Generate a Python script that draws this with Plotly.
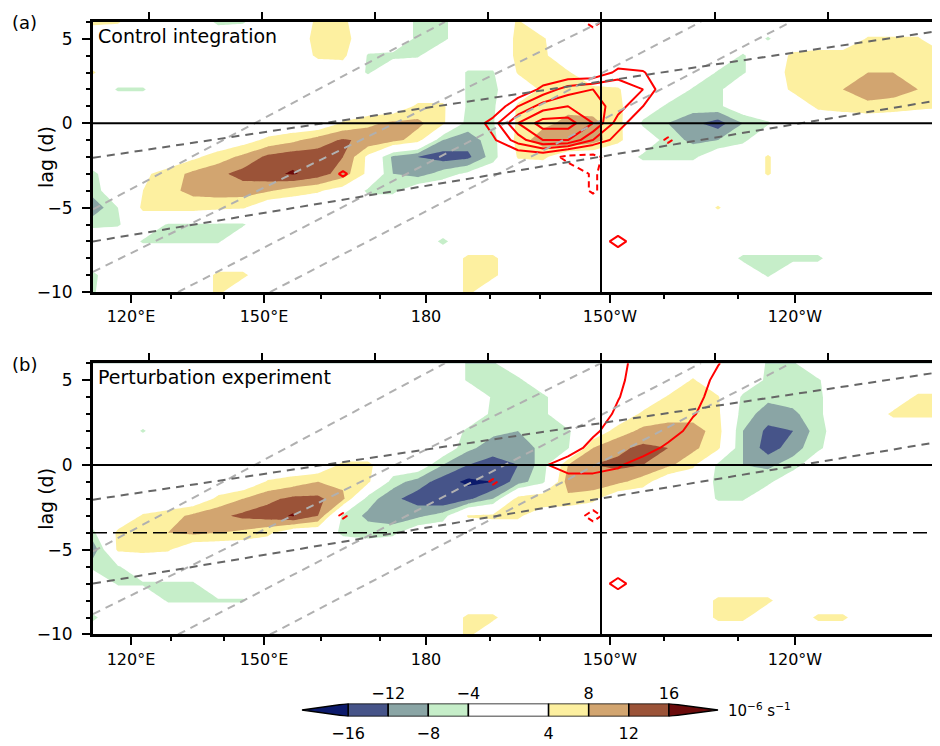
import plotly.graph_objects as go

W, H = 940, 746
FONT = "DejaVu Sans"

# ---------------- data ----------------
# x position along the (irregular) longitude axis, in axis units (frame spans 0..850)
xpos = list(range(0, 851, 25))
lag_rows = [6, 5, 4, 3, 2, 1, 0, -1, -2, -3, -4, -5, -6, -7, -8, -9, -10]

lon_major_pos = [38, 171, 333, 517, 702]
lon_major_lab = ["120°E", "150°E", "180", "150°W", "120°W"]
lon_minor_pos = [78, 131, 228, 287, 397, 447, 571, 645]
top_tick_pos = [56, 169, 282, 395, 508, 622, 735, 848]
lag_tick_pos = [-10, -5, 0, 5]
lag_tick_lab = ["\u221210", "\u22125", "0", "5"]
lag_minor_pos = list(range(-10, 7))

# contour levels and the colour of each band (below first level ... above last level)
levels = [-16, -12, -8, -4, 4, 8, 12, 16]
band_colors = ["#0c1a6c", "#465489", "#8aa5a5", "#c6eec9", "#ffffff",
               "#fdf0a0", "#d2a570", "#9b5338", "#6b0b0b"]

# vorticity anomaly, control integration (rows = lag_rows, cols = xpos)
za = [
 [5,4.5,0,0,0,-5,-4.5,0,0,5,5,0,0,-5,-5,0,0,4.5,0,0,0,0,0,0,-4.2,0,0,0,0,0,0,0,0,0,0],
 [0,0,0,0,0,0,0,0,0,6,6,0,0,-5,-5,0,0,5,4.5,0,0,0,0,0,0,0,0,-4.5,0,0,0,4.5,4.5,4.5,0],
 [0,0,0,0,0,0,0,0,0,5,5.5,-4.5,-5,-4.5,0,0,0,5,5,0,0,0,0,0,0,0,-4.5,0,5,6,6,6,6,6,5],
 [4.5,0,0,0,0,0,0,0,0,0,0,-4.5,0,0,0,-4.5,-4.5,4.5,5,4.5,0,0,0,0,0,-4.5,-4.5,0,6,7,7,8,8,7,6],
 [0,-4.5,-4.5,0,0,0,0,0,0,0,0,0,0,0,0,-4.5,-5,0,5,5.5,5,4.5,0,0,-4.5,-5,0,0,5,7,8,10,10,8,6],
 [0,0,0,0,0,0,0,0,0,0,0,0,0,5,5,-5,-5,5,6,7,6.5,5,0,-5,-6,-5,0,0,0,5,6,7,6,5,4.5],
 [0,0,0,0,0,0,0,0,0,0,4.5,7,9,9,5,-6,-4.5,5,7,9,9,6,-5,-8,-11,-14,-8,-4.5,0,0,0,0,0,0,0],
 [0,0,0,0,0,0,2,5,7,10,12.5,11,9.5,6,-8,-10,-6,6,10,12,10,5,0,-6,-9,-8,-5,0,0,0,0,0,0,0,0],
 [0,0,0,0,3,6,9,13,14.5,14,12,3,-9,-12,-14,-13,-6,4.5,5,0,0,0,-5,-5,-5,0,0,4.5,0,0,0,0,0,0,0],
 [-5,0,3,6,9,11,13.5,15,16.5,14,10,3,-8,-10,-6,-3,0,0,0,0,0,0,0,0,0,0,0,4.5,0,0,0,0,0,0,0],
 [-6,0,4,7,9,10,10,8.5,6,4.5,2,-5,-5,0,0,0,0,0,0,0,0,0,0,0,0,0,0,0,0,0,0,0,0,0,0],
 [-11,-4,5,6,6,5,4.5,0,0,0,0,0,0,0,0,0,0,0,0,0,0,0,0,0,0,4.5,0,0,0,0,0,0,0,0,0],
 [-5,-4.5,0,-4.5,-4.5,-4.5,-4.5,0,0,0,0,0,0,0,0,0,0,0,0,0,0,0,0,0,0,0,0,0,0,0,0,0,0,0,0],
 [0,0,-4.5,-4.5,-4.5,-4.5,0,0,0,0,0,0,0,0,-5,0,0,0,0,0,0,0,0,0,0,0,0,0,0,0,0,0,0,0,0],
 [0,0,0,0,0,0,0,0,0,0,0,0,0,0,0,5,5,0,0,0,0,0,0,0,0,0,-5,-5,-5,-5,0,0,0,0,0],
 [-5,0,0,0,0,5,5,0,0,0,0,0,0,0,0,5,5,0,0,0,0,0,0,0,0,0,0,-4.5,0,0,0,0,0,0,0],
 [-4.5,0,0,0,0,5,0,0,0,0,0,0,0,0,0,5,0,0,0,0,0,0,0,0,0,0,0,0,0,0,0,0,0,0,0],
]

# vorticity anomaly, perturbation experiment
zb = [
 [0,0,0,0,0,0,0,0,0,0,0,0,0,0,0,-4.5,-4.5,0,0,0,0,0,0,0,0,0,0,-4.5,-4.5,0,0,0,0,0,0],
 [0,0,0,0,0,0,0,0,0,0,0,0,0,0,0,-4.5,-5,-5,0,0,0,0,0,0,4.5,0,0,-5,-5,-4.5,0,0,0,0,0],
 [0,0,0,0,0,0,0,0,0,0,0,0,0,0,0,0,-4.5,-5,-5,0,0,0,0,4.5,5,4.5,-5,-7,-6,-5,0,0,0,5,5],
 [0,0,0,0,0,0,0,0,0,0,0,0,0,0,0,0,-5,-6,-5,0,0,0,5,6,6,5,-6,-10,-9,-5,0,0,5,5,5],
 [0,0,-4.5,0,0,0,0,0,0,0,0,0,0,0,0,-5,-7,-8,-6,-4.5,0,6,9,10,10,6,-8,-13,-12,-6,0,0,0,0,0],
 [0,0,0,0,0,0,0,0,0,0,0,0,0,0,0,-7,-10,-10,-7,-4.5,8,11,13,12,9,5,-8,-14,-10,-5,0,0,0,0,0],
 [0,0,0,0,0,0,0,0,0,0,5,5,0,0,-8,-12,-14,-12,-6,8,12,13,12,9,5,-5,-8,-9,-6,0,0,0,0,0,0],
 [0,0,0,0,0,0,0,4.5,6,8,7,5,-6,-10,-14,-17,-16,-10,-5,10,11,9,6,0,0,-5,-6,-5,0,0,0,0,0,0,0],
 [0,0,0,0,0,5,8,11,13,13,9,-6,-11,-14,-16,-13,-8,6,8,7,5,0,0,0,0,-4.5,-4.5,0,0,0,0,0,0,0,0],
 [0,0,4.5,6,9,11,13,14,16.5,12,-5,-9,-11,-9,-6,4.5,5,5,0,0,0,0,0,0,0,0,0,0,0,0,0,0,0,0,0],
 [-5,5,6,8,9,8,7,5,0,0,-5,-6,-5,0,0,0,0,0,0,0,0,0,0,0,0,0,0,0,0,0,0,0,0,0,0],
 [-11,5,5,4.5,0,0,0,0,0,0,0,0,0,0,0,0,0,0,0,0,0,0,0,0,0,0,0,0,0,0,0,0,0,0,0],
 [-5,-4.5,0,0,0,0,0,0,0,0,0,0,0,0,0,0,0,0,0,0,0,0,0,0,0,0,0,0,0,0,0,0,0,0,0],
 [0,-4.5,-4.5,-4.5,-4.5,0,0,0,0,0,0,0,0,0,0,0,0,0,0,0,0,0,0,0,0,0,0,0,0,0,0,0,0,0,0],
 [0,0,0,-4.5,-4.5,-4.5,-4.5,0,0,0,0,0,0,0,0,0,0,0,0,0,0,0,0,0,0,5,5,5,0,0,0,0,0,0,0],
 [-5,0,0,0,0,0,0,0,0,0,0,0,0,0,0,5,5,0,0,0,0,0,0,0,0,5,5,0,0,5,5,0,0,0,0],
 [0,0,0,0,0,0,0,0,0,0,0,0,0,0,0,5,0,0,0,0,0,0,0,0,0,0,0,0,0,0,0,0,0,0,0],
]

# second field (red contours), control integration
ra = [
 [0,0,0,0,0,0,0,0,0,0,0,0,0,0,0,0,0,0,0,0,-1.5,0,0,0,0,0,0,0,0,0,0,0,0,0,0],
 [0,0,0,0,0,0,0,0,0,0,0,0,0,0,0,0,0,0,0,0,0,0,0,0,0,0,0,0,0,0,0,0,0,0,0],
 [0,0,0,0,0,0,0,0,0,0,0,0,0,0,0,0,0,0,0,0,0,0,0,0,0,0,0,0,0,0,0,0,0,0,0],
 [0,0,0,0,0,0,0,0,0,0,0,0,0,0,0,0,0,0,0,0,0,1.3,1.1,0,0,0,0,0,0,0,0,0,0,0,0],
 [0,0,0,0,0,0,0,0,0,0,0,0,0,0,0,0,0,0,1.3,2.5,3,3,2,0,0,0,0,0,0,0,0,0,0,0,0],
 [0,0,0,0,0,0,0,0,0,0,0,0,0,0,0,0,0,2,3.5,4,3.5,2.5,1,0,0,0,0,0,0,0,0,0,0,0,0],
 [0,0,0,0,0,0,0,0,0,0,0,0,0,0,0,0,1.5,4,5.5,5.5,4,1.5,0,0,0,0,0,0,0,0,0,0,0,0,0],
 [0,0,0,0,0,0,0,0,0,0,0,0,0,0,0,0,0.8,2.5,4,4,2,0.5,0,-1.2,0,0,0,0,0,0,0,0,0,0,0],
 [0,0,0,0,0,0,0,0,0,0,0,0,0,0,0,0,0,0,0,-1.5,-1.5,0,0,0,0,0,0,0,0,0,0,0,0,0,0],
 [0,0,0,0,0,0,0,0,0,0,1.2,0,0,0,0,0,0,0,0,0,-1.2,0,0,0,0,0,0,0,0,0,0,0,0,0,0],
 [0,0,0,0,0,0,0,0,0,0,0,0,0,0,0,0,0,0,0,0,-1.2,0,0,0,0,0,0,0,0,0,0,0,0,0,0],
 [0,0,0,0,0,0,0,0,0,0,0,0,0,0,0,0,0,0,0,0,0,0,0,0,0,0,0,0,0,0,0,0,0,0,0],
 [0,0,0,0,0,0,0,0,0,0,0,0,0,0,0,0,0,0,0,0,0,0,0,0,0,0,0,0,0,0,0,0,0,0,0],
 [0,0,0,0,0,0,0,0,0,0,0,0,0,0,0,0,0,0,0,0,0,1.5,0,0,0,0,0,0,0,0,0,0,0,0,0],
 [0,0,0,0,0,0,0,0,0,0,0,0,0,0,0,0,0,0,0,0,0,0,0,0,0,0,0,0,0,0,0,0,0,0,0],
 [0,0,0,0,0,0,0,0,0,0,0,0,0,0,0,0,0,0,0,0,0,0,0,0,0,0,0,0,0,0,0,0,0,0,0],
 [0,0,0,0,0,0,0,0,0,0,0,0,0,0,0,0,0,0,0,0,0,0,0,0,0,0,0,0,0,0,0,0,0,0,0],
]

# second field (red contours), perturbation experiment
rb = [
 [0,0,0,0,0,0,0,0,0,0,0,0,0,0,0,0,0,0,0,0,0,0.33,2,2,2,1.09,0,0,0,0,0,0,0,0,0],
 [0,0,0,0,0,0,0,0,0,0,0,0,0,0,0,0,0,0,0,0,0,0.61,2,2,2,0.53,0,0,0,0,0,0,0,0,0],
 [0,0,0,0,0,0,0,0,0,0,0,0,0,0,0,0,0,0,0,0,0,0.91,2,2,1.79,0,0,0,0,0,0,0,0,0,0],
 [0,0,0,0,0,0,0,0,0,0,0,0,0,0,0,0,0,0,0,0,0,1.32,2,2,1.14,0,0,0,0,0,0,0,0,0,0],
 [0,0,0,0,0,0,0,0,0,0,0,0,0,0,0,0,0,0,0,0,0.61,2,2,2,0.33,0,0,0,0,0,0,0,0,0,0],
 [0,0,0,0,0,0,0,0,0,0,0,0,0,0,0,0,0,0,0,0,1.67,2,2,0.53,0,0,0,0,0,0,0,0,0,0,0],
 [0,0,0,0,0,0,0,0,0,0,0,0,0,0,0,0,0,0,0.75,2,2,1.25,0,0,0,0,0,0,0,0,0,0,0,0,0],
 [0,0,0,0,0,0,0,0,0,0,0,0,0,0,0,0,-1.2,0,0,0,0,0,0,0,0,0,0,0,0,0,0,0,0,0,0],
 [0,0,0,0,0,0,0,0,0,0,0,0,0,0,0,0,0,0,0,0,0,0,0,0,0,0,0,0,0,0,0,0,0,0,0],
 [0,0,0,0,0,0,0,0,0,0,-1.2,0,0,0,0,0,0,0,0,0,-1.5,0,0,0,0,0,0,0,0,0,0,0,0,0,0],
 [0,0,0,0,0,0,0,0,0,0,0,0,0,0,0,0,0,0,0,0,0,0,0,0,0,0,0,0,0,0,0,0,0,0,0],
 [0,0,0,0,0,0,0,0,0,0,0,0,0,0,0,0,0,0,0,0,0,0,0,0,0,0,0,0,0,0,0,0,0,0,0],
 [0,0,0,0,0,0,0,0,0,0,0,0,0,0,0,0,0,0,0,0,0,0,0,0,0,0,0,0,0,0,0,0,0,0,0],
 [0,0,0,0,0,0,0,0,0,0,0,0,0,0,0,0,0,0,0,0,0,1.5,0,0,0,0,0,0,0,0,0,0,0,0,0],
 [0,0,0,0,0,0,0,0,0,0,0,0,0,0,0,0,0,0,0,0,0,0,0,0,0,0,0,0,0,0,0,0,0,0,0],
 [0,0,0,0,0,0,0,0,0,0,0,0,0,0,0,0,0,0,0,0,0,0,0,0,0,0,0,0,0,0,0,0,0,0,0],
 [0,0,0,0,0,0,0,0,0,0,0,0,0,0,0,0,0,0,0,0,0,0,0,0,0,0,0,0,0,0,0,0,0,0,0],
]

# reference phase lines and group lines (x0, lag0, x1, lag1)
phase_lines = [(0, -5.1, 352, 6.0), (0, -8.8, 508, 6.0), (85, -10, 608, 6), (177, -10, 698, 6)]
group_lines = [(0, -2.05, 850, 5.5), (0, -7.0, 850, 1.4)]
ref_lon = 508
zero_lag = 0
cut_lag = -4

panel_titles = ["Control integration", "Perturbation experiment"]
panel_tags = ["(a)", "(b)"]

# ---------------- figure ----------------
fig = go.Figure()

# stepwise colour scale for the filled contours (levels every 4 incl. 0 -> 10 bands,
# the two bands around zero are both white)
fill_bands = band_colors[:4] + [band_colors[4], band_colors[4]] + band_colors[5:]
nb = len(fill_bands)
cscale = []
for i, c in enumerate(fill_bands):
    cscale.append([i / nb, c])
    cscale.append([(i + 1) / nb, c])

def px_x(p):
    return p / W

def px_y(p):
    return 1 - p / H

panels = [
    dict(z=za, r=ra, xa="x", ya="y", xt="x3", top=14, bot=288, rsolid=(1, 5)),
    dict(z=zb, r=rb, xa="x2", ya="y2", xt="x4", top=360, bot=635, rsolid=(1, 1)),
]

for k, p in enumerate(panels):
    fig.add_trace(go.Contour(
        x=xpos, y=lag_rows, z=p["z"], xaxis=p["xa"], yaxis=p["ya"],
        autocontour=False,
        contours=dict(start=levels[0], end=levels[-1], size=4, coloring="fill", showlines=False),
        colorscale=cscale, line=dict(width=0, smoothing=0),
        showscale=False, hoverinfo="skip"))
    for (x0, l0, x1, l1) in phase_lines:
        fig.add_trace(go.Scatter(x=[x0, x1], y=[l0, l1], mode="lines", xaxis=p["xa"], yaxis=p["ya"],
                                 line=dict(color="#b0b0b0", width=2, dash="8px,6px"),
                                 showlegend=False, hoverinfo="skip"))
    for (x0, l0, x1, l1) in group_lines:
        fig.add_trace(go.Scatter(x=[x0, x1], y=[l0, l1], mode="lines", xaxis=p["xa"], yaxis=p["ya"],
                                 line=dict(color="#666666", width=2, dash="8px,6px"),
                                 showlegend=False, hoverinfo="skip"))
    fig.add_trace(go.Scatter(x=[0, 850], y=[zero_lag, zero_lag], mode="lines", xaxis=p["xa"], yaxis=p["ya"],
                             line=dict(color="black", width=2), showlegend=False, hoverinfo="skip"))
    fig.add_trace(go.Scatter(x=[ref_lon, ref_lon], y=[-10, 6], mode="lines", xaxis=p["xa"], yaxis=p["ya"],
                             line=dict(color="black", width=2), showlegend=False, hoverinfo="skip"))
    if k == 1:
        fig.add_trace(go.Scatter(x=[0, 850], y=[cut_lag, cut_lag], mode="lines", xaxis=p["xa"], yaxis=p["ya"],
                                 line=dict(color="black", width=1.5, dash="14px,6px"),
                                 showlegend=False, hoverinfo="skip"))
    s0, s1 = p["rsolid"]
    fig.add_trace(go.Contour(
        x=xpos, y=lag_rows, z=p["r"], xaxis=p["xa"], yaxis=p["ya"], autocontour=False,
        contours=dict(start=s0, end=s1, size=1, coloring="none"),
        line=dict(color="#ff0000", width=2, smoothing=0), showscale=False, hoverinfo="skip"))
    fig.add_trace(go.Contour(
        x=xpos, y=lag_rows, z=p["r"], xaxis=p["xa"], yaxis=p["ya"], autocontour=False,
        contours=dict(start=-5, end=-1, size=1, coloring="none"),
        line=dict(color="#ff0000", width=2, smoothing=0, dash="6px,4px"), showscale=False, hoverinfo="skip"))
    fig.add_trace(go.Scatter(x=[0], y=[0], mode="markers", marker=dict(opacity=0),
                             xaxis=p["xt"], yaxis=p["ya"], showlegend=False, hoverinfo="skip"))

    xd = [px_x(85), px_x(935)]
    yd = [px_y(p["bot"]), px_y(p["top"])]
    sfx = "" if k == 0 else "2"
    fig.layout["xaxis" + sfx] = dict(
        domain=xd, range=[0, 850], anchor="y" + sfx,
        tickmode="array", tickvals=lon_major_pos, ticktext=lon_major_lab,
        ticks="outside", ticklen=8, tickwidth=2, tickcolor="black",
        minor=dict(tickvals=lon_minor_pos, ticks="outside", ticklen=4, tickwidth=2, tickcolor="black"),
        showline=True, linewidth=3, linecolor="black", mirror=True,
        showgrid=False, zeroline=False, tickfont=dict(family=FONT, size=16, color="black"))
    fig.layout["yaxis" + sfx] = dict(
        domain=yd, range=[-10, 6], anchor="x" + sfx,
        tickmode="array", tickvals=lag_tick_pos, ticktext=lag_tick_lab,
        ticks="outside", ticklen=8, tickwidth=2, tickcolor="black", ticklabelstandoff=6,
        minor=dict(tickvals=lag_minor_pos, ticks="outside", ticklen=4, tickwidth=2, tickcolor="black"),
        showline=True, linewidth=3, linecolor="black", mirror=True,
        showgrid=False, zeroline=False, tickfont=dict(family=FONT, size=17, color="black"))
    tsfx = "3" if k == 0 else "4"
    fig.layout["xaxis" + tsfx] = dict(
        domain=xd, range=[0, 850], overlaying="x" + sfx, anchor="y" + sfx, side="top",
        tickmode="array", tickvals=top_tick_pos, showticklabels=False,
        ticks="outside", ticklen=9, tickwidth=2, tickcolor="black",
        showline=False, showgrid=False, zeroline=False)
    fig.add_annotation(text=panel_tags[k], x=px_x(2), y=px_y(p["top"] + 1), xref="paper", yref="paper",
                       xanchor="left", yanchor="middle", showarrow=False,
                       font=dict(family=FONT, size=18, color="black"))
    fig.add_annotation(text=panel_titles[k], x=px_x(88), y=px_y(p["top"] + 14), xref="paper", yref="paper",
                       xanchor="left", yanchor="middle", showarrow=False,
                       font=dict(family=FONT, size=19, color="black"))
    fig.add_annotation(text="lag (d)", x=px_x(38), y=px_y((p["top"] + p["bot"]) / 2), xref="paper", yref="paper",
                       xanchor="center", yanchor="middle", showarrow=False, textangle=-90,
                       font=dict(family=FONT, size=19, color="black"))

# ---------------- colour bar ----------------
for i in range(len(levels) - 1):
    lo, hi = levels[i], levels[i + 1]
    fig.add_trace(go.Scatter(x=[lo, hi, hi, lo, lo], y=[0, 0, 1, 1, 0], mode="lines", fill="toself",
                             fillcolor=band_colors[i + 1], line=dict(color="black", width=1.5),
                             xaxis="x5", yaxis="y5", showlegend=False, hoverinfo="skip"))
fig.add_trace(go.Scatter(x=[levels[0], -20.6, levels[0], levels[0]], y=[0, 0.5, 1, 0], mode="lines",
                         fill="toself", fillcolor=band_colors[0], line=dict(color="black", width=1.5),
                         xaxis="x5", yaxis="y5", showlegend=False, hoverinfo="skip"))
fig.add_trace(go.Scatter(x=[levels[-1], 20.9, levels[-1], levels[-1]], y=[0, 0.5, 1, 0], mode="lines",
                         fill="toself", fillcolor=band_colors[-1], line=dict(color="black", width=1.5),
                         xaxis="x5", yaxis="y5", showlegend=False, hoverinfo="skip"))
fig.add_trace(go.Scatter(x=[0], y=[0.5], mode="markers", marker=dict(opacity=0),
                         xaxis="x6", yaxis="y5", showlegend=False, hoverinfo="skip"))

cb_bot_vals = levels[0::2]
cb_top_vals = levels[1::2]

def lab(v):
    return ("\u2212" + str(-v)) if v < 0 else str(v)

cbx = [px_x(292), px_x(712)]
fig.layout["xaxis5"] = dict(domain=cbx, range=[-20.8, 21.1], anchor="y5",
                            tickmode="array", tickvals=cb_bot_vals, ticktext=[lab(v) for v in cb_bot_vals],
                            ticks="", showline=False, showgrid=False, zeroline=False, ticklabelstandoff=6,
                            tickfont=dict(family=FONT, size=16, color="black"))
fig.layout["xaxis6"] = dict(domain=cbx, range=[-20.8, 21.1], anchor="y5", overlaying="x5", side="top",
                            tickmode="array", tickvals=cb_top_vals, ticktext=[lab(v) for v in cb_top_vals],
                            ticks="", showline=False, showgrid=False, zeroline=False,
                            tickfont=dict(family=FONT, size=16, color="black"))
fig.layout["yaxis5"] = dict(domain=[px_y(718), px_y(705)], range=[0, 1], anchor="x5", visible=False)
fig.add_annotation(text="10<sup>\u22126</sup> s<sup>\u22121</sup>", x=px_x(718), y=px_y(712),
                   xref="paper", yref="paper", xanchor="left", yanchor="middle", showarrow=False,
                   font=dict(family=FONT, size=15, color="black"))

fig.update_layout(width=W, height=H, margin=dict(l=0, r=0, t=0, b=0),
                  paper_bgcolor="white", plot_bgcolor="white", showlegend=False)
fig.write_html("out.html")
